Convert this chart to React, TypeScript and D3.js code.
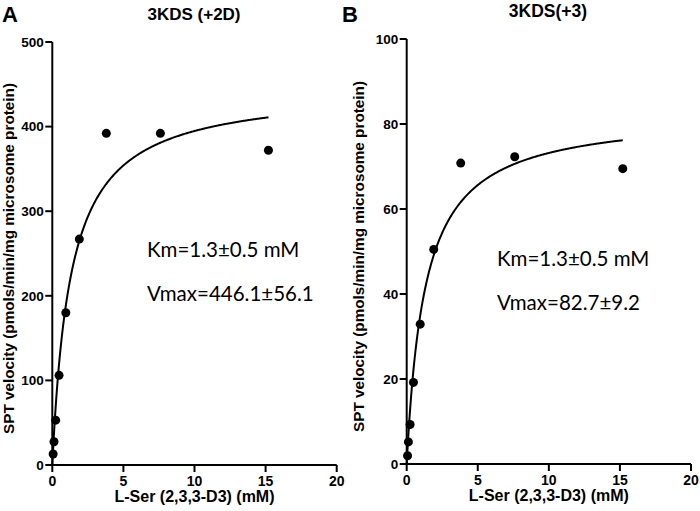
import React from "react";
import * as d3 from "d3";

const concentrations = [0.059, 0.119, 0.2375, 0.475, 0.95, 1.9, 3.8, 7.6, 15.2];
const velocityA = [13, 27.5, 53, 106, 180, 267, 392, 392, 372];
const velocityB = [1.95, 5.2, 9.3, 19.2, 32.9, 50.5, 70.8, 72.3, 69.5];
const xTicks = [0, 5, 10, 15, 20];
const yTicksA = [0, 100, 200, 300, 400, 500];
const yTicksB = [0, 20, 40, 60, 80, 100];
const fitA = { km: 1.3, vmax: 446.1 };
const fitB = { km: 1.3, vmax: 82.7 };
const titles = ["3KDS (+2D)", "3KDS(+3)"];
const letters = ["A", "B"];
const annotA = ["Km=1.3±0.5 mM", "Vmax=446.1±56.1"];
const annotB = ["Km=1.3±0.5 mM", "Vmax=82.7±9.2"];
const xLabel = "L-Ser (2,3,3-D3) (mM)";
const yLabel = "SPT velocity (pmols/min/mg microsome protein)";

const boldFont = "'Liberation Sans', Arial, sans-serif";

type PanelProps = {
  x0: number; x1: number; y0: number; y1: number;
  yMax: number; yTicks: number[]; values: number[];
  fit: { km: number; vmax: number };
  title: string; titleX: number; titleY: number; titleSize: number;
  letter: string; letterX: number;
  annot: string[]; annotX: number; annotY: number;
  yLabelX: number;
};

function Panel(p: PanelProps) {
  const xs = d3.scaleLinear().domain([0, 20]).range([p.x0, p.x1]);
  const ys = d3.scaleLinear().domain([0, p.yMax]).range([p.y0, p.y1]);
  const fitXs = d3.range(0, 15.2001, 0.05);
  const line = d3
    .line<number>()
    .x((d) => xs(d))
    .y((d) => ys((p.fit.vmax * d) / (p.fit.km + d)));
  const tick = 7;
  return (
    <g>
      <text x={p.letterX} y={22} fontFamily={boldFont} fontWeight="bold" fontSize={22}>
        {p.letter}
      </text>
      <text x={p.titleX} y={p.titleY} fontFamily={boldFont} fontWeight="bold" fontSize={p.titleSize} textAnchor="middle">
        {p.title}
      </text>
      <line x1={p.x0} x2={p.x0} y1={p.y0 + 1} y2={p.y1} stroke="#000" strokeWidth={2} />
      <line x1={p.x0} x2={p.x1} y1={p.y0} y2={p.y0} stroke="#000" strokeWidth={2} />
      {p.yTicks.map((t) => (
        <g key={"y" + t}>
          <line x1={p.x0 - tick} x2={p.x0} y1={ys(t)} y2={ys(t)} stroke="#000" strokeWidth={2} />
          <text x={p.x0 - tick - 1.5} y={ys(t)} dy="0.36em" textAnchor="end" fontFamily={boldFont} fontWeight="bold" fontSize={13.5}>
            {t}
          </text>
        </g>
      ))}
      {xTicks.map((t) => (
        <g key={"x" + t}>
          <line x1={xs(t)} x2={xs(t)} y1={p.y0} y2={p.y0 + tick} stroke="#000" strokeWidth={2} />
          <text x={xs(t)} y={p.y0 + 21} textAnchor="middle" fontFamily={boldFont} fontWeight="bold" fontSize={14}>
            {t}
          </text>
        </g>
      ))}
      <text x={(p.x0 + p.x1) / 2} y={p.y0 + 37} textAnchor="middle" fontFamily={boldFont} fontWeight="bold" fontSize={16}>
        {xLabel}
      </text>
      <text
        transform={`translate(${p.yLabelX},${(p.y0 + p.y1) / 2 + 5}) rotate(-90)`}
        textAnchor="middle"
        fontFamily={boldFont}
        fontWeight="bold"
        fontSize={15.3}
      >
        {yLabel}
      </text>
      <path d={line(fitXs) || ""} fill="none" stroke="#000" strokeWidth={2} />
      {concentrations.map((c, i) => (
        <circle key={i} cx={xs(c)} cy={ys(p.values[i])} r={4.5} fill="#000" />
      ))}
      {p.annot.map((s, i) => (
        <text key={i} x={p.annotX} y={p.annotY + i * 44} fontFamily="Lato, 'Open Sans', sans-serif" fontSize={20.5}>
          {s}
        </text>
      ))}
    </g>
  );
}

export default function App() {
  return (
    <svg width={700} height={511} style={{ position: "absolute", left: 0, top: 0, background: "#fff" }}>
      <rect width={700} height={511} fill="#fff" />
      <Panel
        x0={52.3} x1={336.7} y0={465} y1={42} yMax={500} yTicks={yTicksA} values={velocityA}
        fit={fitA} title={titles[0]} titleX={194} titleY={20} titleSize={17} letter={letters[0]} letterX={2}
        annot={annotA} annotX={147} annotY={257} yLabelX={14}
      />
      <Panel
        x0={406.7} x1={691} y0={464} y1={39} yMax={100} yTicks={yTicksB} values={velocityB}
        fit={fitB} title={titles[1]} titleX={548} titleY={17} titleSize={17.5} letter={letters[1]} letterX={342}
        annot={annotB} annotX={497} annotY={266} yLabelX={364}
      />
    </svg>
  );
}
